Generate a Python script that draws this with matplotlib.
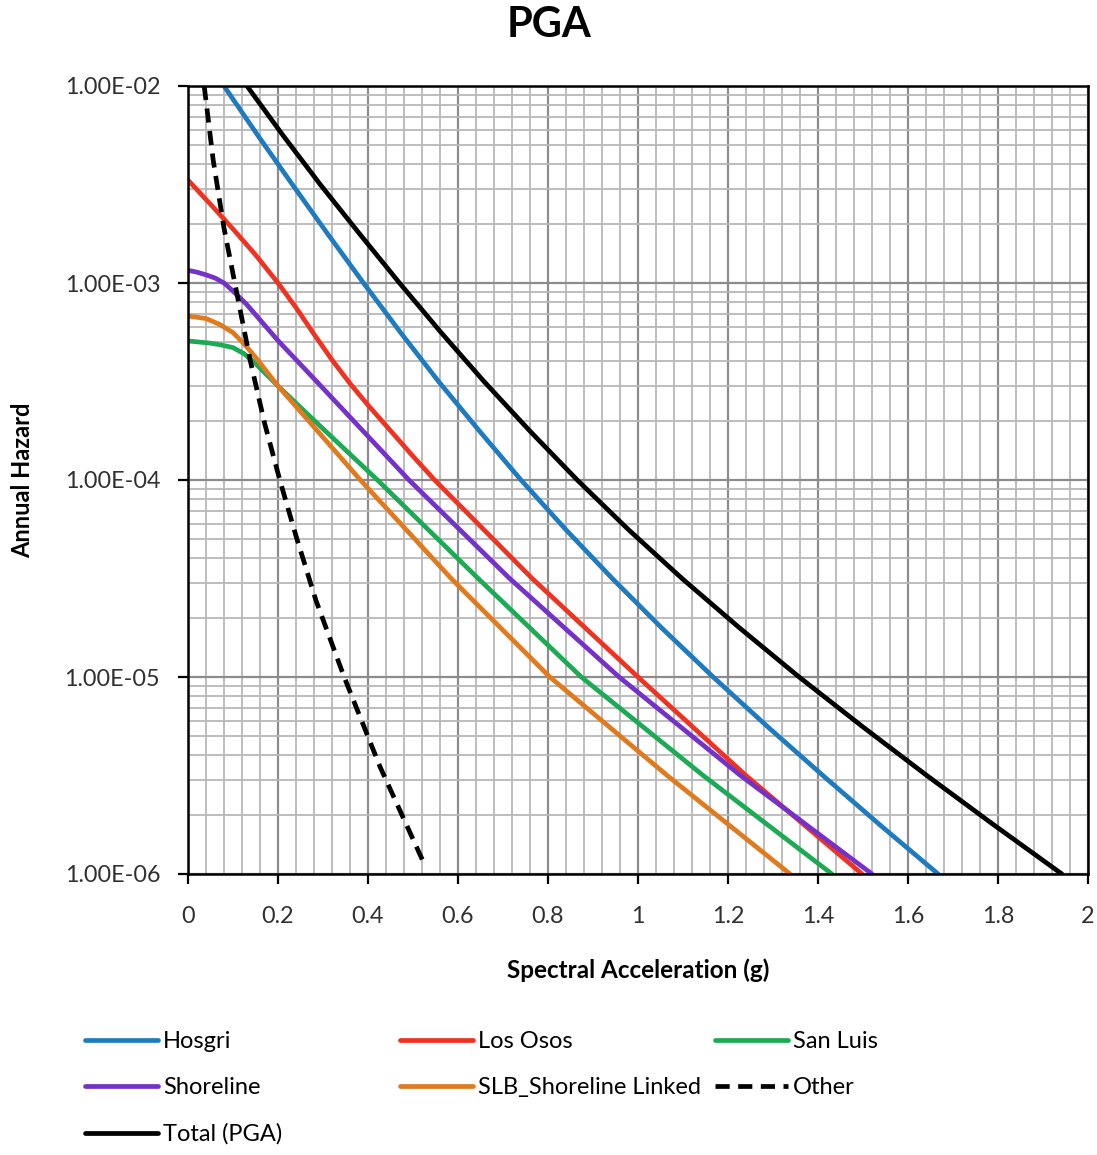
import matplotlib
matplotlib.use("Agg")
import matplotlib.pyplot as plt
from matplotlib.ticker import FixedLocator, FuncFormatter, MultipleLocator, NullFormatter

plt.rcParams['font.family'] = ['Lato', 'DejaVu Sans']

title = "PGA"
x_label = "Spectral Acceleration (g)"
y_label = "Annual Hazard"

# Series: spectral acceleration (g) and annual hazard
hosgri_x = [0.080, 0.155, 0.232, 0.310, 0.390, 0.472, 0.557, 0.647, 0.740,
            0.839, 0.943, 1.052, 1.167, 1.287, 1.411, 1.537, 1.667]
hosgri_y = [1.0e-2, 5.62e-3, 3.16e-3, 1.78e-3, 1.0e-3, 5.62e-4, 3.16e-4, 1.78e-4, 1.0e-4,
            5.62e-5, 3.16e-5, 1.78e-5, 1.0e-5, 5.62e-6, 3.16e-6, 1.78e-6, 1.0e-6]

losos_x = [0.0, 0.05, 0.10, 0.15, 0.20, 0.24, 0.28, 0.32, 0.36, 0.40, 0.45, 0.50,
           0.548, 0.765, 1.00, 1.24, 1.498]
losos_y = [3.33e-3, 2.51e-3, 1.88e-3, 1.39e-3, 1.0e-3, 7.5e-4, 5.5e-4, 4.07e-4, 3.09e-4,
           2.4e-4, 1.78e-4, 1.32e-4, 1.0e-4, 3.16e-5, 1.0e-5, 3.16e-6, 1.0e-6]

sanluis_x = [0.0, 0.05, 0.075, 0.10, 0.125, 0.15, 0.20, 0.30, 0.421, 0.645, 0.874, 1.145, 1.431]
sanluis_y = [5.08e-4, 4.95e-4, 4.84e-4, 4.7e-4, 4.37e-4, 3.9e-4, 3.0e-4, 1.82e-4, 1.0e-4,
             3.16e-5, 1.0e-5, 3.16e-6, 1.0e-6]

shore_x = [0.0, 0.02, 0.04, 0.06, 0.08, 0.10, 0.13, 0.20, 0.286, 0.491, 0.715, 0.958, 1.228, 1.52]
shore_y = [1.16e-3, 1.135e-3, 1.1e-3, 1.06e-3, 1.0e-3, 9.1e-4, 7.8e-4, 5.1e-4, 3.16e-4,
           1.0e-4, 3.16e-5, 1.0e-5, 3.16e-6, 1.0e-6]

slb_x = [0.0, 0.04, 0.07, 0.10, 0.125, 0.15, 0.20, 0.29, 0.383, 0.585, 0.804, 1.065, 1.338]
slb_y = [6.8e-4, 6.6e-4, 6.17e-4, 5.6e-4, 4.9e-4, 4.2e-4, 3.0e-4, 1.75e-4, 1.0e-4,
         3.16e-5, 1.0e-5, 3.16e-6, 1.0e-6]

other_x = [0.036, 0.056, 0.080, 0.104, 0.138, 0.170, 0.204, 0.240, 0.284, 0.347, 0.427, 0.527]
other_y = [1.0e-2, 4.2e-3, 1.9e-3, 1.0e-3, 4.07e-4, 1.95e-4, 1.0e-4, 5.2e-5, 2.46e-5,
           1.0e-5, 3.49e-6, 1.1e-6]

total_x = [0.131, 0.211, 0.294, 0.381, 0.470, 0.562, 0.658, 0.759, 0.865,
           0.978, 1.098, 1.225, 1.358, 1.498, 1.642, 1.790, 1.942]
total_y = [1.0e-2, 5.62e-3, 3.16e-3, 1.78e-3, 1.0e-3, 5.62e-4, 3.16e-4, 1.78e-4, 1.0e-4,
           5.62e-5, 3.16e-5, 1.78e-5, 1.0e-5, 5.62e-6, 3.16e-6, 1.78e-6, 1.0e-6]

x_ticks = [0, 0.2, 0.4, 0.6, 0.8, 1.0, 1.2, 1.4, 1.6, 1.8, 2.0]
x_tick_labels = ["0", "0.2", "0.4", "0.6", "0.8", "1", "1.2", "1.4", "1.6", "1.8", "2"]
y_ticks = [1e-6, 1e-5, 1e-4, 1e-3, 1e-2]

fig = plt.figure(figsize=(10.97, 11.55), dpi=100)
ax = fig.add_axes([188/1097, 1 - 874/1155, 900/1097, 788/1155])

lw = 3.4
kw = dict(lw=lw, solid_capstyle='round', solid_joinstyle='round')
l_hos, = ax.plot(hosgri_x, hosgri_y, color='#1F7BC0', label='Hosgri', **kw)
l_los, = ax.plot(losos_x, losos_y, color='#EE3322', label='Los Osos', **kw)
l_san, = ax.plot(sanluis_x, sanluis_y, color='#1DAA55', label='San Luis', **kw)
l_sho, = ax.plot(shore_x, shore_y, color='#7432C8', label='Shoreline', **kw)
l_slb, = ax.plot(slb_x, slb_y, color='#E07A1F', label='SLB_Shoreline Linked', **kw)
l_oth, = ax.plot(other_x, other_y, color='black', lw=lw, ls=(0, (3, 1.8)), label='Other')
l_tot, = ax.plot(total_x, total_y, color='black', label='Total (PGA)', **kw)

ax.set_yscale('log')
ax.set_xlim(0, 2)
ax.set_ylim(1e-6, 1e-2)

ax.xaxis.set_major_locator(FixedLocator(x_ticks))
ax.set_xticklabels(x_tick_labels)
ax.xaxis.set_minor_locator(MultipleLocator(0.04))
ax.yaxis.set_major_locator(FixedLocator(y_ticks))
ax.yaxis.set_major_formatter(FuncFormatter(lambda v, p: f"{v:.2E}"))
ax.yaxis.set_minor_formatter(NullFormatter())

ax.grid(True, which='major', color='#8C8C8C', lw=1.6)
ax.grid(True, which='minor', color='#B8B8B8', lw=1.3)
ax.set_axisbelow(True)

ax.tick_params(axis='both', which='major', direction='out', length=7, width=1.6,
               labelsize=16.8, colors='black', labelcolor='#303030')
ax.tick_params(axis='x', which='major', pad=16)
ax.tick_params(axis='y', which='major', pad=13)
ax.tick_params(axis='both', which='minor', length=0)
for s in ax.spines.values():
    s.set_linewidth(1.8)
    s.set_color('black')

ax.set_xlabel(x_label, fontsize=17.5, fontweight='bold', labelpad=23)
ax.set_ylabel(y_label, fontsize=17, fontweight='bold', labelpad=22)

fig.text(0.5, 1 - 25/1155, title, ha='center', va='center', fontsize=30, fontweight='bold')

common = dict(frameon=False, fontsize=17, handlelength=3.1, handletextpad=0.2,
              labelspacing=1.07, borderpad=0, borderaxespad=0, loc='upper left')
top = 1 - 1031/1155
leg1 = fig.legend(handles=[l_hos, l_sho, l_tot], bbox_to_anchor=(85/1097, top), **common)
leg2 = fig.legend(handles=[l_los, l_slb], bbox_to_anchor=(400/1097, top), **common)
leg3 = fig.legend(handles=[l_san, l_oth], bbox_to_anchor=(715/1097, top), **common)

fig.savefig('out.png', dpi=100)
